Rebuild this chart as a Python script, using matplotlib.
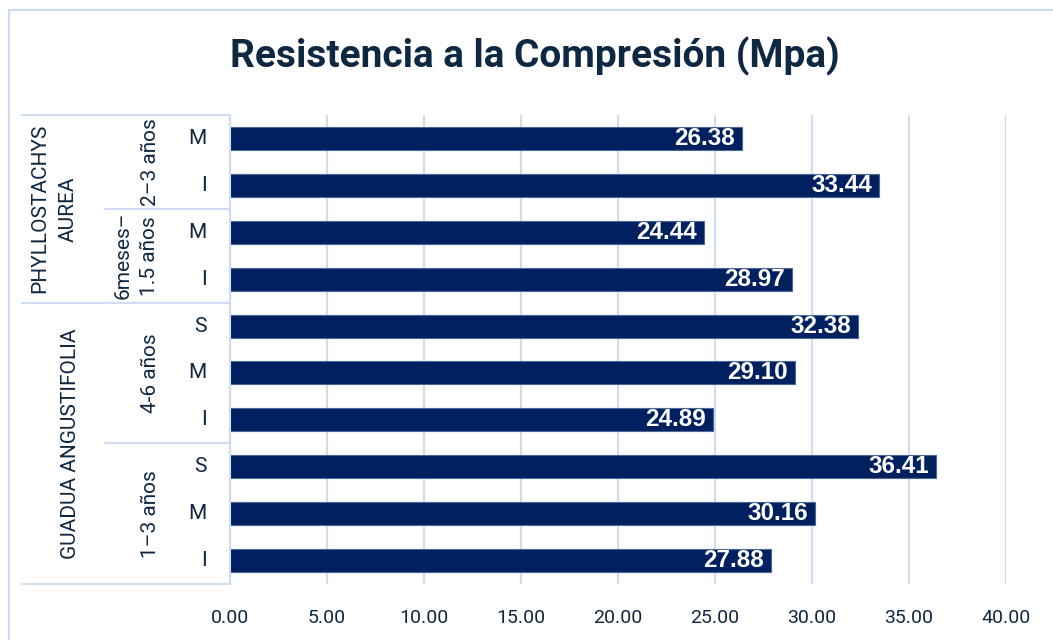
import matplotlib
matplotlib.use("Agg")
import matplotlib.pyplot as plt
from matplotlib.lines import Line2D
from matplotlib.patches import Rectangle
from matplotlib import font_manager as fm

# Data (bottom to top)
species = ["GUADUA ANGUSTIFOLIA"] * 6 + ["PHYLLOSTACHYS\nAUREA"] * 4
ages = ["1–3 años"] * 3 + ["4-6 años"] * 3 + ["6meses–\n1.5 años"] * 2 + ["2–3 años"] * 2
parts = ["I", "M", "S", "I", "M", "S", "I", "M", "I", "M"]
values = [27.88, 30.16, 36.41, 24.89, 29.10, 32.38, 28.97, 24.44, 33.44, 26.38]
xticks = [0, 5, 10, 15, 20, 25, 30, 35, 40]
title = "Resistencia a la Compresión (Mpa)"

W, H = 1053, 640
BAR = "#002060"
GRID = "#cddcf0"
TXT = "#0e2841"

# bold Liberation Sans (not Narrow)
lab_fp = None
for f in fm.fontManager.ttflist:
    if f.name == "Liberation Sans" and f.weight in (700, "bold") and f.style == "normal":
        lab_fp = fm.FontProperties(fname=f.fname, size=17.5)
        break
if lab_fp is None:
    lab_fp = fm.FontProperties(family="Liberation Sans", weight="bold", size=17.5)

fig = plt.figure(figsize=(W / 100, H / 100), dpi=100)
ax_l, ax_r, ax_t, ax_b = 230, 1006, 115, 584
ax = fig.add_axes([ax_l / W, 1 - ax_b / H, (ax_r - ax_l) / W, (ax_b - ax_t) / H])

ypos = list(range(len(values)))
ax.barh(ypos, values, height=0.49, color=BAR, edgecolor="#4a6896", linewidth=0.8, zorder=3)
for y, v in zip(ypos, values):
    ax.annotate(f"{v:.2f}", xy=(v, y), xytext=(-5, 0), textcoords="offset points",
                ha="right", va="center", color="white", fontproperties=lab_fp, zorder=4)

ax.set_xlim(0, 40)
ax.set_ylim(-0.5, len(values) - 0.5)
ax.set_xticks(xticks)
ax.set_xticklabels([f"{t:.2f}" for t in xticks], fontsize=14, color=TXT, family="Roboto")
ax.tick_params(axis="x", length=0, pad=18)
ax.set_yticks([])
ax.grid(axis="x", color=GRID, linewidth=1.5, zorder=0)
for s in ["top", "right", "bottom"]:
    ax.spines[s].set_visible(False)
ax.spines["left"].set_color(GRID)
ax.spines["left"].set_linewidth(1.5)
ax.spines["left"].set_zorder(5)

def px2ax(px):
    return (px - ax_l) / (ax_r - ax_l)

tr = ax.get_yaxis_transform()

# level 3 labels
for y, p in zip(ypos, parts):
    ax.text(px2ax(207), y, p, transform=tr, ha="right", va="center",
            fontsize=15, color=TXT, family="Roboto", clip_on=False)

def groups(labels):
    out = []
    start = 0
    for i in range(1, len(labels) + 1):
        if i == len(labels) or labels[i] != labels[start]:
            out.append((labels[start], start, i - 1))
            start = i
    return out

age_groups = groups([s + "|" + a for s, a in zip(species, ages)])
sp_groups = groups(species)

for key, a, b in age_groups:
    lab = key.split("|")[1]
    xc = 136 if "\n" in lab else 151
    ax.text(px2ax(xc), (a + b) / 2, lab, transform=tr, rotation=90, ha="center", va="center",
            multialignment="center", fontsize=15, color=TXT, family="Roboto",
            linespacing=1.5, clip_on=False)
    if a > 0:
        ax.add_line(Line2D([px2ax(105), 0], [a - 0.5, a - 0.5], transform=tr,
                           color=GRID, lw=1.5, clip_on=False))

for lab, a, b in sp_groups:
    xc = 54 if "\n" in lab else 70
    ax.text(px2ax(xc), (a + b) / 2, lab, transform=tr, rotation=90, ha="center", va="center",
            multialignment="center", fontsize=15, color=TXT, family="Roboto",
            linespacing=1.65, clip_on=False)
    ax.add_line(Line2D([px2ax(22), 0], [b + 0.5, b + 0.5], transform=tr,
                       color=GRID, lw=1.5, clip_on=False))
ax.add_line(Line2D([px2ax(22), 0], [-0.5, -0.5], transform=tr,
                   color=GRID, lw=1.5, clip_on=False))

# chart border
fig.patches.append(Rectangle((9 / W, -0.1), 1.2, 1.1 - 10 / H, transform=fig.transFigure,
                             fill=False, edgecolor=GRID, linewidth=1.5))

fig.text(535 / W, 1 - 56 / H, title, ha="center", va="center", fontsize=28,
         fontweight="bold", color=TXT, family="Roboto")

fig.savefig("out.png", dpi=100)
